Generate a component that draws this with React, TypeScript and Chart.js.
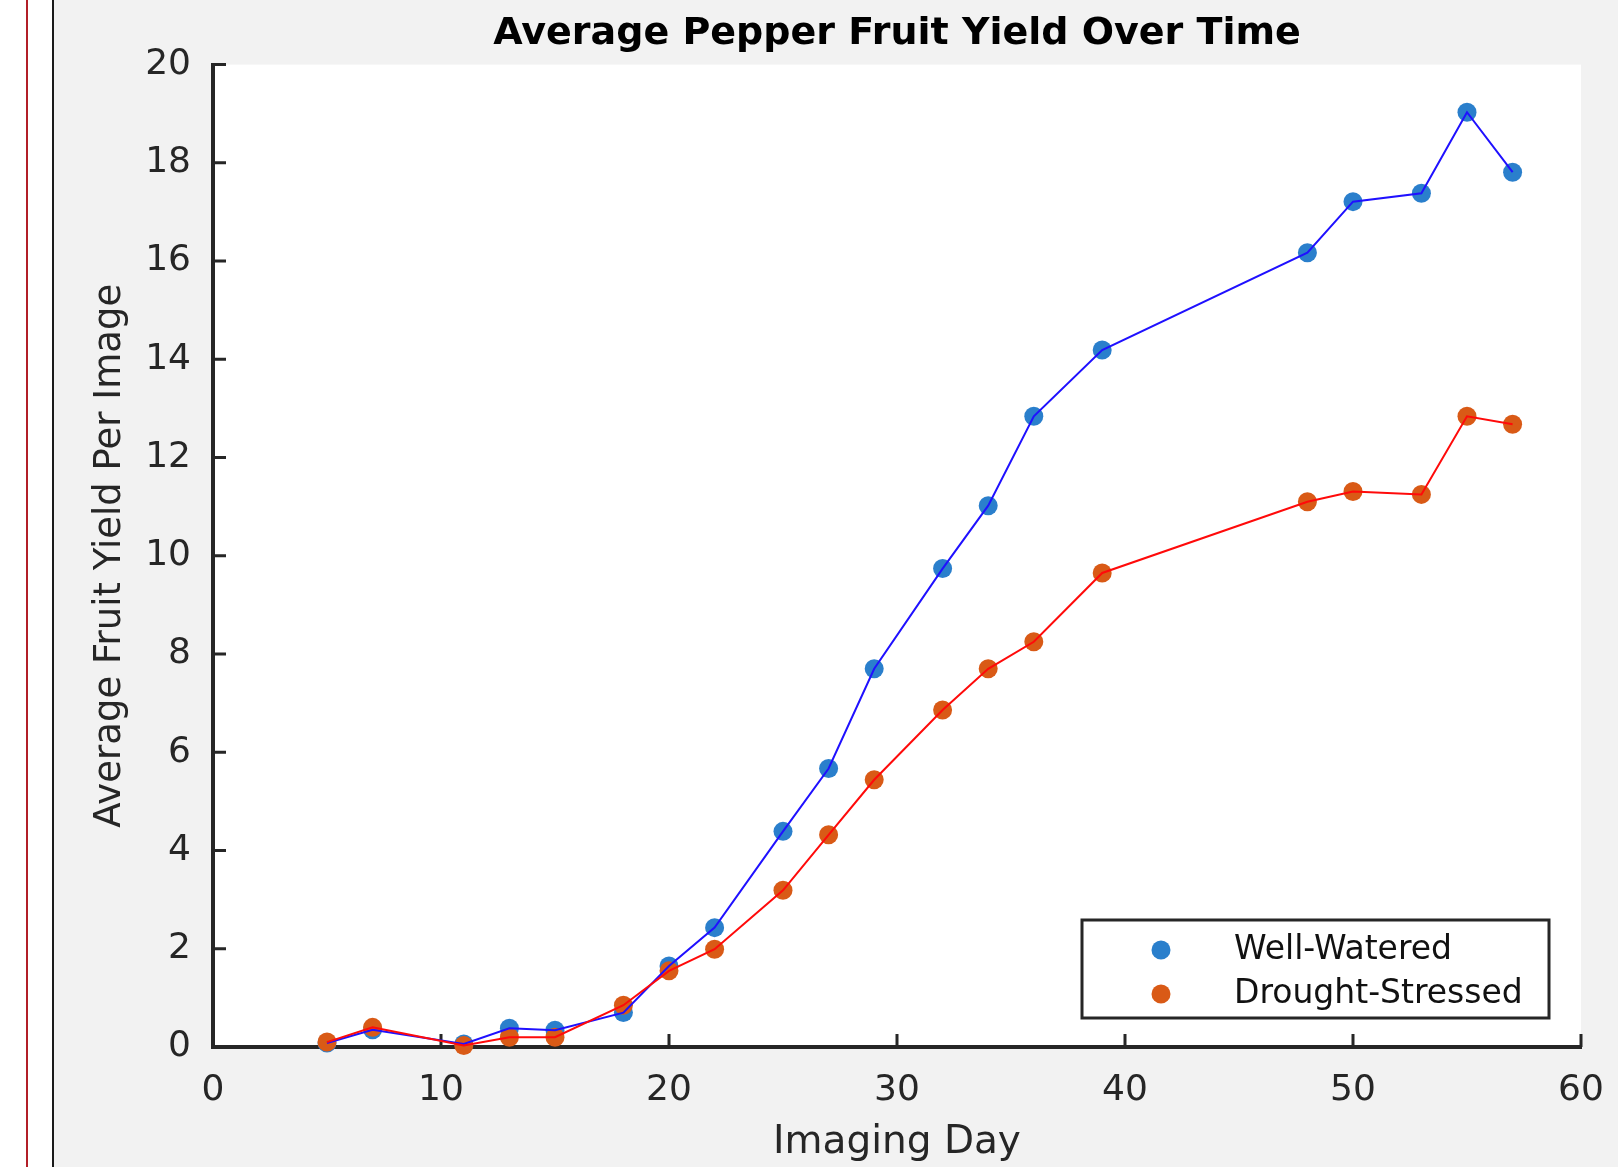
import React, { useEffect, useRef } from "react";
import { Chart, registerables } from "chart.js";

Chart.register(...registerables);

const TITLE = "Average Pepper Fruit Yield Over Time";
const X_TITLE = "Imaging Day";
const Y_TITLE = "Average Fruit Yield Per Image";
const SERIES_NAMES = ["Well-Watered", "Drought-Stressed"];

const days = [5, 7, 11, 13, 15, 18, 20, 22, 25, 27, 29, 32, 34, 36, 39, 48, 50, 53, 55, 57];
const wellWatered = [0.08, 0.35, 0.06, 0.38, 0.34, 0.7, 1.65, 2.43, 4.39, 5.67, 7.7, 9.74, 11.02, 12.84, 14.19, 16.17, 17.21, 17.38, 19.03, 17.81];
const droughtStressed = [0.1, 0.4, 0.03, 0.2, 0.2, 0.85, 1.55, 1.99, 3.19, 4.32, 5.44, 6.86, 7.7, 8.25, 9.65, 11.1, 11.31, 11.25, 12.84, 12.68];

const X_MIN = 0, X_MAX = 60, X_STEP = 10;
const Y_MIN = 0, Y_MAX = 20, Y_STEP = 2;

const MARKER_BLUE = "#2a7fcc";
const MARKER_ORANGE = "#d95a16";
const LINE_BLUE = "#1f10ff";
const LINE_RED = "#ff0a0a";
const AXIS = "#262626";
const FONT = "DejaVu Sans";

const toPoints = (ys: number[]) => days.map((d, i) => ({ x: d, y: ys[i] }));

const decorPlugin = {
  id: "decor",
  beforeDraw(chart: any) {
    const { ctx, chartArea } = chart;
    const { left, top, right, bottom } = chartArea;
    ctx.save();
    ctx.fillStyle = "#ffffff";
    ctx.fillRect(left, top, right - left, bottom - top);
    ctx.restore();
  },
  beforeDatasetsDraw(chart: any) {
    const { ctx, chartArea, scales } = chart;
    const { left, bottom } = chartArea;
    const len = 13;
    ctx.save();
    ctx.strokeStyle = AXIS;
    ctx.lineWidth = 3;
    ctx.beginPath();
    scales.x.ticks.forEach((t: any) => {
      const px = scales.x.getPixelForValue(t.value);
      ctx.moveTo(px, bottom);
      ctx.lineTo(px, bottom - len);
    });
    scales.y.ticks.forEach((t: any) => {
      const py = scales.y.getPixelForValue(t.value);
      ctx.moveTo(left, py);
      ctx.lineTo(left + len, py);
    });
    ctx.stroke();
    ctx.restore();
  },
  afterDraw(chart: any) {
    const { ctx } = chart;
    const bx = 1028, by = 920, bw = 467, bh = 98;
    ctx.save();
    ctx.fillStyle = "#ffffff";
    ctx.fillRect(bx, by, bw, bh);
    ctx.strokeStyle = AXIS;
    ctx.lineWidth = 3;
    ctx.strokeRect(bx, by, bw, bh);
    const colors = [MARKER_BLUE, MARKER_ORANGE];
    const rows = [950, 994];
    ctx.font = `33px "${FONT}"`;
    ctx.textBaseline = "middle";
    ctx.textAlign = "left";
    SERIES_NAMES.forEach((name, i) => {
      ctx.fillStyle = colors[i];
      ctx.beginPath();
      ctx.arc(1107, rows[i], 9.5, 0, Math.PI * 2);
      ctx.fill();
      ctx.fillStyle = "#111111";
      ctx.fillText(name, 1180, rows[i]);
    });
    ctx.restore();
  },
};

export default function App() {
  const canvasRef = useRef<HTMLCanvasElement | null>(null);

  useEffect(() => {
    document.body.style.margin = "0";
    const canvas = canvasRef.current;
    if (!canvas) return;
    const tickFont = { family: FONT, size: 36 };
    const chart = new Chart(canvas, {
      type: "line",
      data: {
        datasets: [
          {
            label: "Drought-Stressed line",
            data: toPoints(droughtStressed),
            borderColor: LINE_RED,
            borderWidth: 2,
            pointRadius: 0,
            fill: false,
            clip: false as any,
            order: 0,
          },
          {
            label: "Well-Watered line",
            data: toPoints(wellWatered),
            borderColor: LINE_BLUE,
            borderWidth: 2,
            pointRadius: 0,
            fill: false,
            clip: false as any,
            order: 1,
          },
          {
            label: SERIES_NAMES[1],
            data: toPoints(droughtStressed),
            showLine: false,
            pointRadius: 9.5,
            pointBackgroundColor: MARKER_ORANGE,
            pointBorderWidth: 0,
            borderColor: MARKER_ORANGE,
            clip: false as any,
            order: 2,
          },
          {
            label: SERIES_NAMES[0],
            data: toPoints(wellWatered),
            showLine: false,
            pointRadius: 9.5,
            pointBackgroundColor: MARKER_BLUE,
            pointBorderWidth: 0,
            borderColor: MARKER_BLUE,
            clip: false as any,
            order: 3,
          },
        ],
      },
      options: {
        responsive: false,
        animation: false,
        events: [],
        layout: { padding: { left: 0, right: 37, top: 0, bottom: 0 } },
        plugins: {
          legend: { display: false },
          tooltip: { enabled: false },
          title: {
            display: true,
            fullSize: false,
            text: TITLE,
            color: "#000000",
            font: { family: FONT, size: 38, weight: "bold" },
            padding: { top: 11, bottom: 8 },
          },
        },
        scales: {
          x: {
            type: "linear",
            min: X_MIN,
            max: X_MAX,
            ticks: { stepSize: X_STEP, font: tickFont, color: AXIS, padding: 22, maxRotation: 0, autoSkip: false },
            grid: { display: false, drawTicks: false },
            border: { display: true, color: AXIS, width: 4 },
            title: {
              display: true,
              text: X_TITLE,
              color: AXIS,
              font: { family: FONT, size: 39 },
              padding: { top: 0, bottom: 1 },
            },
            afterFit: (s: any) => {
              s.height = 120;
              s.paddingLeft = 0;
              s.paddingRight = 0;
            },
          },
          y: {
            type: "linear",
            min: Y_MIN,
            max: Y_MAX,
            ticks: { stepSize: Y_STEP, font: tickFont, color: AXIS, padding: 22, autoSkip: false },
            grid: { display: false, drawTicks: false },
            border: { display: true, color: AXIS, width: 4 },
            title: {
              display: true,
              text: Y_TITLE,
              color: AXIS,
              font: { family: FONT, size: 37 },
              padding: { top: 34, bottom: 0 },
            },
            afterFit: (s: any) => {
              s.width = 159;
              s.paddingTop = 0;
              s.paddingBottom = 0;
            },
          },
        },
      } as any,
      plugins: [decorPlugin],
    });
    return () => chart.destroy();
  }, []);

  return (
    <div style={{ position: "relative", width: 1618, height: 1167, background: "#ffffff", overflow: "hidden" }}>
      <div style={{ position: "absolute", left: 26, top: 0, width: 2, height: 1167, background: "#b21f28" }} />
      <div style={{ position: "absolute", left: 52, top: 0, width: 2, height: 1167, background: "#1a1a1a" }} />
      <canvas
        ref={canvasRef}
        width={1564}
        height={1167}
        style={{ position: "absolute", left: 54, top: 0, width: 1564, height: 1167, background: "#f2f2f2", display: "block" }}
      />
    </div>
  );
}
